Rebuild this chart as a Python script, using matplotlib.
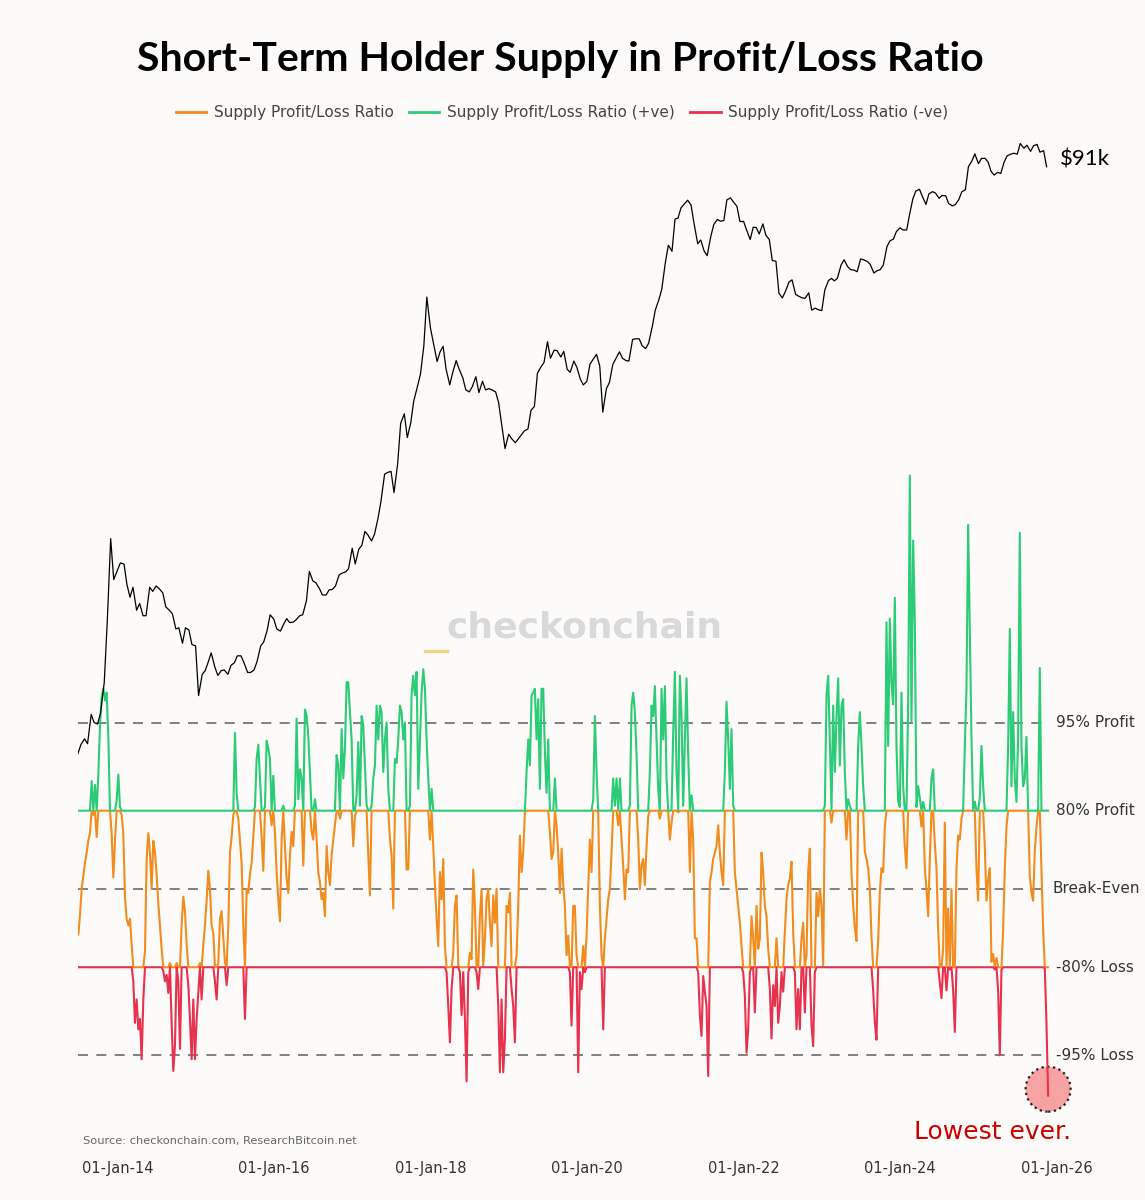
import numpy as np
import pandas as pd
import matplotlib
matplotlib.use('Agg')
import matplotlib.pyplot as plt
import matplotlib.dates as mdates
from matplotlib.lines import Line2D
from matplotlib.transforms import blended_transform_factory

# ---------------- data ----------------
# BTC price, semi-monthly (1st and 15th)
price_dates = pd.date_range('2013-07-01', periods=298, freq='SMS')
btc_price = [
    # 2013 H2
    88, 98, 105, 99, 140, 127, 125, 143, 205, 420, 1120, 690,
    # 2014
    770, 840, 830, 650, 560, 630, 480, 520, 450, 450, 630, 600,
    640, 620, 590, 500, 480, 460, 385, 390, 325, 390, 380, 320,
    # 2015
    315, 175, 225, 235, 260, 290, 245, 222, 235, 237, 225, 250,
    258, 280, 280, 258, 230, 230, 237, 262, 315, 330, 378, 455,
    # 2016
    432, 385, 375, 405, 435, 415, 417, 430, 450, 455, 535, 760,
    680, 665, 620, 575, 575, 610, 615, 640, 730, 745, 755, 785,
    # 2017
    1000, 830, 990, 1035, 1220, 1170, 1090, 1180, 1420, 1740, 2400, 2450,
    2480, 1930, 2720, 4380, 4900, 3700, 4400, 5700, 6750, 7800, 10900, 19500,
    # 2018
    13500, 11300, 9100, 10200, 10900, 8300, 6900, 8000, 9200, 8300, 7500, 6500,
    6350, 6750, 7600, 6300, 7200, 6500, 6600, 6500, 6350, 5600, 4200, 3250,
    # 2019
    3850, 3650, 3480, 3650, 3820, 4000, 4100, 5100, 5350, 7900, 8550, 9000,
    11500, 9450, 10400, 10350, 9600, 10250, 8300, 8000, 9150, 8500, 7400, 6900,
    # 2020
    7200, 8800, 9400, 9900, 8600, 5000, 6600, 7100, 8800, 9400, 10200, 9450,
    9200, 9150, 11800, 11900, 11900, 10950, 10600, 11300, 13750, 16700, 18800, 21300,
    # 2021
    29300, 36000, 33500, 49000, 49600, 56000, 58800, 61300, 57800, 46500, 36600, 38300,
    33600, 31800, 39900, 46000, 48800, 47800, 48200, 61500, 63000, 60000, 57000, 47600,
    # 2022
    47700, 43100, 38500, 44500, 44400, 41100, 46300, 40500, 38500, 30000, 29800, 20400,
    19300, 20800, 23300, 23900, 20100, 19700, 19300, 19200, 20500, 16700, 17100, 16800,
    # 2023
    16600, 21200, 23700, 24300, 23600, 24400, 28500, 30300, 28000, 27000, 26800, 26300,
    30600, 30300, 29700, 28700, 25900, 26600, 27000, 28500, 35400, 37900, 38700, 42300,
    # 2024
    44200, 43100, 43100, 52100, 62400, 68400, 69700, 63800, 58300, 66200, 67800, 66600,
    62700, 64800, 64600, 58900, 57300, 58200, 61700, 67600, 69500, 91000, 97300, 106000,
    # 2025 (to mid-Nov)
    94400, 100500, 100600, 96100, 86100, 82600, 85200, 84000, 96500, 103600, 105700, 106800,
    105700, 119800, 113300, 117400, 109200, 116800, 118600, 108200, 110100, 91000,
]

# log10(STH supply in profit / STH supply in loss), read about weekly
ratio_dates = pd.date_range('2013-07-03', '2025-11-22', periods=583)
sth_log_ratio = [
    -0.35, -0.20, 0.00, 0.10, 0.20, 0.28, 0.37, 0.43, 0.83, 0.57,
    0.80, 0.40, 0.88, 1.25, 1.48, 1.54, 1.45, 1.51, 1.17, 0.60,
    0.43, 0.09, 0.37, 0.68, 0.88, 0.63, 0.57, 0.43, -0.06, -0.23,
    -0.28, -0.23, -0.43, -0.71, -1.03, -0.85, -1.08, -1.00, -1.31, -0.85,
    -0.48, 0.23, 0.43, 0.28, 0.00, 0.37, 0.28, 0.11, -0.11, -0.28,
    -0.46, -0.63, -0.71, -0.66, -0.80, -0.57, -1.03, -1.40, -1.20, -0.57,
    -0.71, -1.23, -0.28, -0.06, -0.17, -0.43, -0.74, -1.00, -1.31, -0.85,
    -1.31, -1.00, -0.80, -0.57, -0.85, -0.43, -0.28, -0.09, 0.14, 0.00,
    -0.28, -0.34, -0.71, -0.85, -0.57, -0.23, -0.17, -0.37, -0.57, -0.74,
    -0.28, 0.28, 0.40, 0.57, 1.20, 0.74, 0.54, 0.37, 0.20, -0.28,
    -1.00, 0.00, -0.03, 0.11, 0.20, 0.40, 0.63, 1.00, 1.11, 0.85,
    0.40, 0.14, 0.63, 1.14, 1.08, 1.00, 0.49, 0.87, 0.44, 0.13,
    -0.08, -0.25, 0.38, 0.64, 0.33, 0.08, -0.03, 0.26, 0.44, 0.33,
    0.64, 1.31, 0.69, 0.92, 0.85, 0.18, 1.38, 1.33, 1.18, 0.90,
    0.44, 0.38, 0.69, 0.38, 0.13, 0.05, -0.08, -0.03, -0.21, 0.33,
    0.13, 0.03, 0.26, 0.38, 0.49, 1.03, 0.95, 0.54, 1.23, 0.85,
    1.08, 1.59, 1.59, 1.36, 1.15, 0.33, 0.56, 0.72, 1.13, 0.64,
    1.33, 1.26, 0.95, 0.64, 0.26, -0.05, 0.64, 0.85, 0.95, 1.41,
    1.15, 1.41, 1.36, 0.90, 1.15, 1.28, 0.77, 0.38, 0.26, -0.15,
    1.00, 0.97, 1.15, 1.41, 1.36, 1.15, 1.28, 0.15, 0.15, 0.64,
    1.49, 1.64, 1.49, 1.67, 0.77, 1.15, 1.51, 1.69, 1.54, 1.15,
    0.85, 0.38, 0.77, 0.33, 0.03, -0.23, -0.44, 0.13, -0.08, 0.23,
    -0.44, -0.64, -0.90, -1.18, -0.77, -0.49, -0.13, -0.05, -0.59, -0.64,
    -0.97, -0.64, -1.00, -1.48, -0.64, -0.49, -0.54, 0.15, -0.13, -0.64,
    -0.77, -0.21, 0.00, -0.59, -0.38, -0.08, 0.00, -0.26, -0.44, -0.05,
    -0.26, 0.00, -0.90, -1.41, -0.85, -1.41, -1.15, -0.13, -0.18, -0.03,
    -0.77, -0.90, -1.18, -0.51, -0.13, 0.41, 0.13, 0.28, 0.59, 0.90,
    1.15, 0.95, 1.49, 1.51, 1.54, 1.15, 1.46, 0.77, 1.54, 1.54,
    1.05, 0.74, 1.15, 0.44, 0.23, 0.28, 0.85, 0.49, 0.28, -0.03,
    0.31, 0.03, -0.13, -0.51, -0.36, -0.64, -1.05, -0.13, -0.13, -0.51,
    -1.41, -0.64, -0.77, -0.44, -0.64, -0.36, 0.00, 0.38, 0.13, 0.69,
    1.33, 0.90, 0.59, -0.13, -0.51, -1.08, -0.38, -0.23, -0.08, 0.00,
    0.28, 0.85, 0.64, 0.85, 0.49, 0.85, 0.38, 0.18, -0.08, 0.15,
    0.13, 0.64, 1.41, 1.51, 1.36, 1.03, 0.38, 0.00, 0.18, 0.23,
    0.03, 0.33, 0.56, 0.90, 1.41, 1.33, 1.56, 1.15, 0.77, 0.54,
    1.54, 1.15, 1.56, 0.85, 0.59, 0.38, 0.51, 1.20, 1.67, 0.90,
    0.59, 1.64, 1.33, 0.64, 1.15, 1.62, 1.03, 0.13, 0.72, 0.38,
    -0.38, -0.38, -0.64, -0.97, -1.13, -0.67, -0.79, -0.90, -1.44, 0.05,
    0.13, 0.23, 0.28, 0.33, 0.49, 0.28, 0.13, 0.03, 0.90, 1.44,
    1.15, 0.77, 1.23, 0.64, 0.13, 0.00, -0.13, -0.26, -0.44, -0.64,
    -0.82, -1.26, -1.08, -0.64, -0.21, -0.38, -0.95, -0.13, -0.46, -0.38,
    0.28, 0.13, -0.13, -0.21, -0.46, -0.77, -1.15, -0.74, -0.90, -0.38,
    -1.03, -0.90, -0.64, -0.79, -0.33, -0.08, 0.03, 0.08, 0.21, -0.33,
    -0.64, -1.08, -0.77, -1.08, -0.38, -0.26, -0.95, -0.51, 0.13, 0.31,
    -1.05, -1.21, -0.64, -0.03, -0.21, 0.00, -0.13, -0.59, 0.64, 1.49,
    1.64, 1.15, 0.51, 1.41, 0.90, 1.33, 1.62, 0.95, 1.41, 1.46,
    0.90, 0.38, 0.69, 0.64, 0.13, -0.13, -0.30, -0.40, 1.10, 1.36,
    1.10, 0.79, 0.29, 0.23, 0.16, 0.00, -0.37, -0.78, -1.03, -1.16,
    -0.40, -0.03, 0.16, 0.13, 0.48, 2.05, 1.10, 2.08, 1.58, 1.42,
    2.24, 1.10, 0.67, 0.63, 1.51, 0.79, 0.32, 0.16, 1.42, 3.18,
    1.29, 2.68, 2.05, 0.63, 0.79, 0.70, 0.48, 0.67, 0.16, 0.00,
    -0.21, 0.23, 0.85, 0.92, 0.35, 0.16, -0.31, -0.72, -0.84, -0.46,
    0.51, -0.78, -0.15, -0.62, 0.00, -0.78, -1.10, 0.16, 0.41, 0.38,
    0.54, 0.60, 1.10, 1.54, 2.80, 1.98, 1.17, 0.60, 0.67, 0.16,
    -0.09, 0.70, 1.10, 0.79, 0.32, -0.09, 0.07, 0.16, -0.56, -0.50,
    -0.62, -0.53, -0.78, -1.28, -0.62, -0.31, 0.16, 0.48, 1.10, 2.00,
    0.79, 1.36, 0.85, 0.67, 1.17, 2.74, 1.10, 0.79, 0.85, 1.17,
    0.60, 0.10, -0.03, -0.09, 0.29, 0.48, 0.60, 1.70, 0.16, -0.31,
    -0.61, -1.03, -1.59,
]

level_ratios = [19, 4, 1, 0.25, 1 / 19]
level_labels = ['95% Profit', '80% Profit', 'Break-Even', '-80% Loss', '-95% Loss']
legend_labels = ['Supply Profit/Loss Ratio', 'Supply Profit/Loss Ratio (+ve)',
                 'Supply Profit/Loss Ratio (-ve)']

assert len(btc_price) == len(price_dates)
assert len(sth_log_ratio) == len(ratio_dates)

# ---------------- styling ----------------
BG = '#fdfbf9'
ORANGE = '#f28c1e'
GREEN = '#2ccb78'
RED = '#e8304f'

v = np.array(sth_log_ratio)
levels = np.log10(level_ratios)
hi, lo = levels[1], levels[3]

fig = plt.figure(figsize=(11.45, 12), dpi=100, facecolor=BG)
ax = fig.add_axes([77.9 / 1145, 50 / 1200, (1059.7 - 77.9) / 1145, 1020 / 1200])
ax.set_facecolor(BG)

# dashed levels
for lv in (levels[0], levels[2], levels[4]):
    ax.plot([ratio_dates[0], ratio_dates[-1]], [lv, lv], color='#6b6b6b', lw=1.2,
            ls=(0, (6, 5)), zorder=2)

ax.plot(ratio_dates, np.clip(v, lo, hi), color=ORANGE, lw=1.5, zorder=3)
ax.plot(ratio_dates, np.maximum(v, hi), color=GREEN, lw=1.5, zorder=4)
ax.plot(ratio_dates, np.minimum(v, lo), color=RED, lw=1.5, zorder=4)

# lowest-ever marker
ax.scatter([ratio_dates[-1]], [v[-1] + 0.05], s=1050, facecolor='#f7a3a3',
           edgecolor='#222222', linewidths=1.6, linestyle=(0, (1, 1.6)), zorder=2,
           clip_on=False)

ax.set_xlim(ratio_dates[0] - pd.Timedelta(days=2), pd.Timestamp('2026-01-15'))
ax.set_ylim(-2.008, 5.838)

ax.xaxis.set_major_locator(mdates.YearLocator(base=2, month=1, day=1))
ax.xaxis.set_major_formatter(mdates.DateFormatter('%d-%b-%y'))
for s in ax.spines.values():
    s.set_visible(False)

# price on a twin log axis
ax2 = ax.twinx()
ax2.set_yscale('log')
ax2.plot(price_dates, btc_price, color='black', lw=0.9, zorder=5)
ax2.set_ylim(0.811, 140600)
for s in ax2.spines.values():
    s.set_visible(False)
ax2.patch.set_visible(False)
ax.yaxis.set_visible(False)
ax2.yaxis.set_visible(False)
ax.tick_params(axis='x', length=0, pad=8, labelsize=10.5, labelcolor='#333333')

# right-hand level labels
tr = blended_transform_factory(fig.transFigure, ax.transData)
for lv, lab in zip(levels, level_labels):
    xx = 1052 / 1145 if lab == 'Break-Even' else 1056 / 1145
    ax.text(xx, lv, lab, transform=tr, ha='left', va='center', fontsize=11,
            color='#333333', clip_on=False)

# texts
fig.text(560 / 1145, 1 - 60 / 1200, 'Short-Term Holder Supply in Profit/Loss Ratio',
         ha='center', va='center', fontsize=29.5, fontweight='bold', family='Lato',
         color='black')
fig.text(1060 / 1145, 1 - 160 / 1200, '$91k', ha='left', va='center', fontsize=16,
         family='Lato', color='black')
fig.text(584.5 / 1145, 1 - 628 / 1200, 'checkonchain', ha='center', va='center',
         fontsize=26, fontweight='bold', color='#d9d9d9')
fig.add_artist(Line2D([425 / 1145, 447 / 1145], [1 - 651 / 1200, 1 - 651 / 1200],
                      transform=fig.transFigure, color='#f3d28a', lw=2.5))
fig.text(83 / 1145, 1 - 1141 / 1200, 'Source: checkonchain.com, ResearchBitcoin.net',
         ha='left', va='center', fontsize=8.2, color='#666666')
fig.text(993 / 1145, 1 - 1132 / 1200, 'Lowest ever.', ha='center', va='center',
         fontsize=18, color='#cc0000')

handles = [Line2D([], [], color=c, lw=2) for c in (ORANGE, GREEN, RED)]
fig.legend(handles, legend_labels, loc='center', bbox_to_anchor=(562 / 1145, 1 - 113 / 1200),
           ncol=3, frameon=False, fontsize=11, handlelength=2.0, handletextpad=0.5,
           columnspacing=1.0, labelcolor='#444444')

fig.savefig('out.png', dpi=100, facecolor=BG)
